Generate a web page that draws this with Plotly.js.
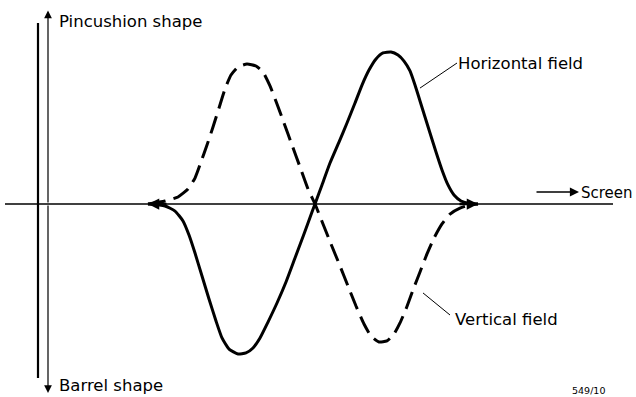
<!DOCTYPE html>
<html>
<head>
<meta charset="utf-8">
<script src="https://cdn.plot.ly/plotly-3.0.1.min.js"></script>
<style>html,body{margin:0;padding:0;background:#fff;}#chart{width:636px;height:397px;}</style>
</head>
<body>
<div id="chart"></div>
<script>
// Position along the tube axis (arbitrary units) and field deviation (arbitrary units)
const verticalX = [1.10,1.27,1.40,1.50,1.57,1.63,1.69,1.75,1.81,1.87,1.93,2.00,2.09,2.18,2.25,2.32,2.39,2.46,2.54,2.62,2.70,2.77,2.85,2.93,3.02,3.10,3.18,3.26,3.33,3.41,3.49,3.56,3.62,3.68,3.75,3.82,3.89,3.96,4.04,4.12,4.22,4.32,4.40];
const verticalY = [0,0.02,0.047,0.10,0.173,0.28,0.393,0.513,0.64,0.767,0.86,0.913,0.933,0.92,0.88,0.787,0.667,0.54,0.393,0.247,0.10,0,-0.133,-0.267,-0.413,-0.547,-0.68,-0.80,-0.88,-0.92,-0.913,-0.867,-0.793,-0.70,-0.573,-0.453,-0.333,-0.227,-0.133,-0.067,-0.027,-0.007,0];

const horizontalX = [1.10,1.27,1.37,1.45,1.51,1.57,1.64,1.71,1.78,1.84,1.91,2.00,2.08,2.15,2.22,2.30,2.39,2.48,2.57,2.66,2.74,2.77,2.84,2.92,3.01,3.09,3.17,3.24,3.31,3.38,3.45,3.53,3.60,3.66,3.72,3.77,3.82,3.87,3.92,3.98,4.04,4.10,4.16,4.23,4.32,4.40];
const horizontalY = [0,-0.013,-0.047,-0.113,-0.207,-0.327,-0.48,-0.633,-0.78,-0.893,-0.967,-1.0,-0.993,-0.96,-0.893,-0.787,-0.66,-0.52,-0.36,-0.20,-0.053,0,0.127,0.273,0.413,0.54,0.673,0.793,0.893,0.967,1.007,1.013,0.993,0.953,0.887,0.793,0.687,0.58,0.473,0.347,0.227,0.127,0.06,0.02,0.003,0];

const labels = {
  top: "Pincushion shape",
  bottom: "Barrel shape",
  horiz: "Horizontal field",
  vert: "Vertical field",
  screen: "Screen",
  code: "549/10"
};

const fontFam = "DejaVu Sans, Liberation Sans, sans-serif";
const txt = (x, y, t, size, anchor) => ({
  x: x, y: y, xref: 'x', yref: 'y', text: t, showarrow: false,
  xanchor: anchor || 'left', yanchor: 'middle', borderpad: 0,
  font: {family: fontFam, size: size || 16.5, color: '#000'}
});
const arrow = (x, y, ax, ay, w, s) => ({
  x: x, y: y, ax: ax, ay: ay, xref: 'x', yref: 'y', axref: 'x', ayref: 'y',
  text: '', showarrow: true, arrowhead: 2, arrowsize: s || 1, arrowwidth: w || 1.2, arrowcolor: '#000'
});

const data = [
  {x: horizontalX, y: horizontalY, mode: 'lines', line: {color: '#000', width: 3, shape: 'spline', smoothing: 0.5}, hoverinfo: 'skip'},
  {x: verticalX, y: verticalY, mode: 'lines', line: {color: '#000', width: 3, dash: '18px,8px', shape: 'spline', smoothing: 0.5}, hoverinfo: 'skip'}
];

const layout = {
  width: 636, height: 397,
  margin: {l: 0, r: 0, t: 0, b: 0},
  paper_bgcolor: '#fff', plot_bgcolor: '#fff',
  showlegend: false,
  xaxis: {range: [-0.38, 5.98], visible: false, fixedrange: true},
  yaxis: {range: [-1.2867, 1.36], visible: false, fixedrange: true},
  shapes: [
    {type: 'line', xref: 'x', yref: 'y', x0: -0.33, x1: 5.75, y0: 0, y1: 0, line: {color: '#000', width: 1.6}},
    {type: 'line', xref: 'x', yref: 'y', x0: 0, x1: 0, y0: 1.207, y1: -1.16, line: {color: '#000', width: 2.2}},
    {type: 'line', xref: 'x', yref: 'y', x0: 3.82, x1: 4.19, y0: 0.773, y1: 0.94, line: {color: '#000', width: 1}},
    {type: 'line', xref: 'x', yref: 'y', x0: 3.85, x1: 4.12, y0: -0.593, y1: -0.74, line: {color: '#000', width: 1}}
  ],
  annotations: [
    arrow(0.10, 1.29, 0.10, 0, 1.2, 1.3),
    arrow(0.10, -1.26, 0.10, 0, 1.2, 1.3),
    arrow(5.41, 0.08, 4.97, 0.08, 1.4, 1.3),
    arrow(1.10, 0, 1.30, 0, 2.5, 0.9),
    arrow(4.40, 0, 4.20, 0, 2.5, 0.9),
    txt(0.20, 1.22, labels.top),
    txt(0.20, -1.213, labels.bottom),
    txt(4.19, 0.94, labels.horiz),
    txt(4.16, -0.767, labels.vert),
    txt(5.96, 0.073, labels.screen, 15, 'right'),
    txt(5.33, -1.24, labels.code, 9.5)
  ]
};

Plotly.newPlot('chart', data, layout, {displayModeBar: false, staticPlot: true});
</script>
</body>
</html>
